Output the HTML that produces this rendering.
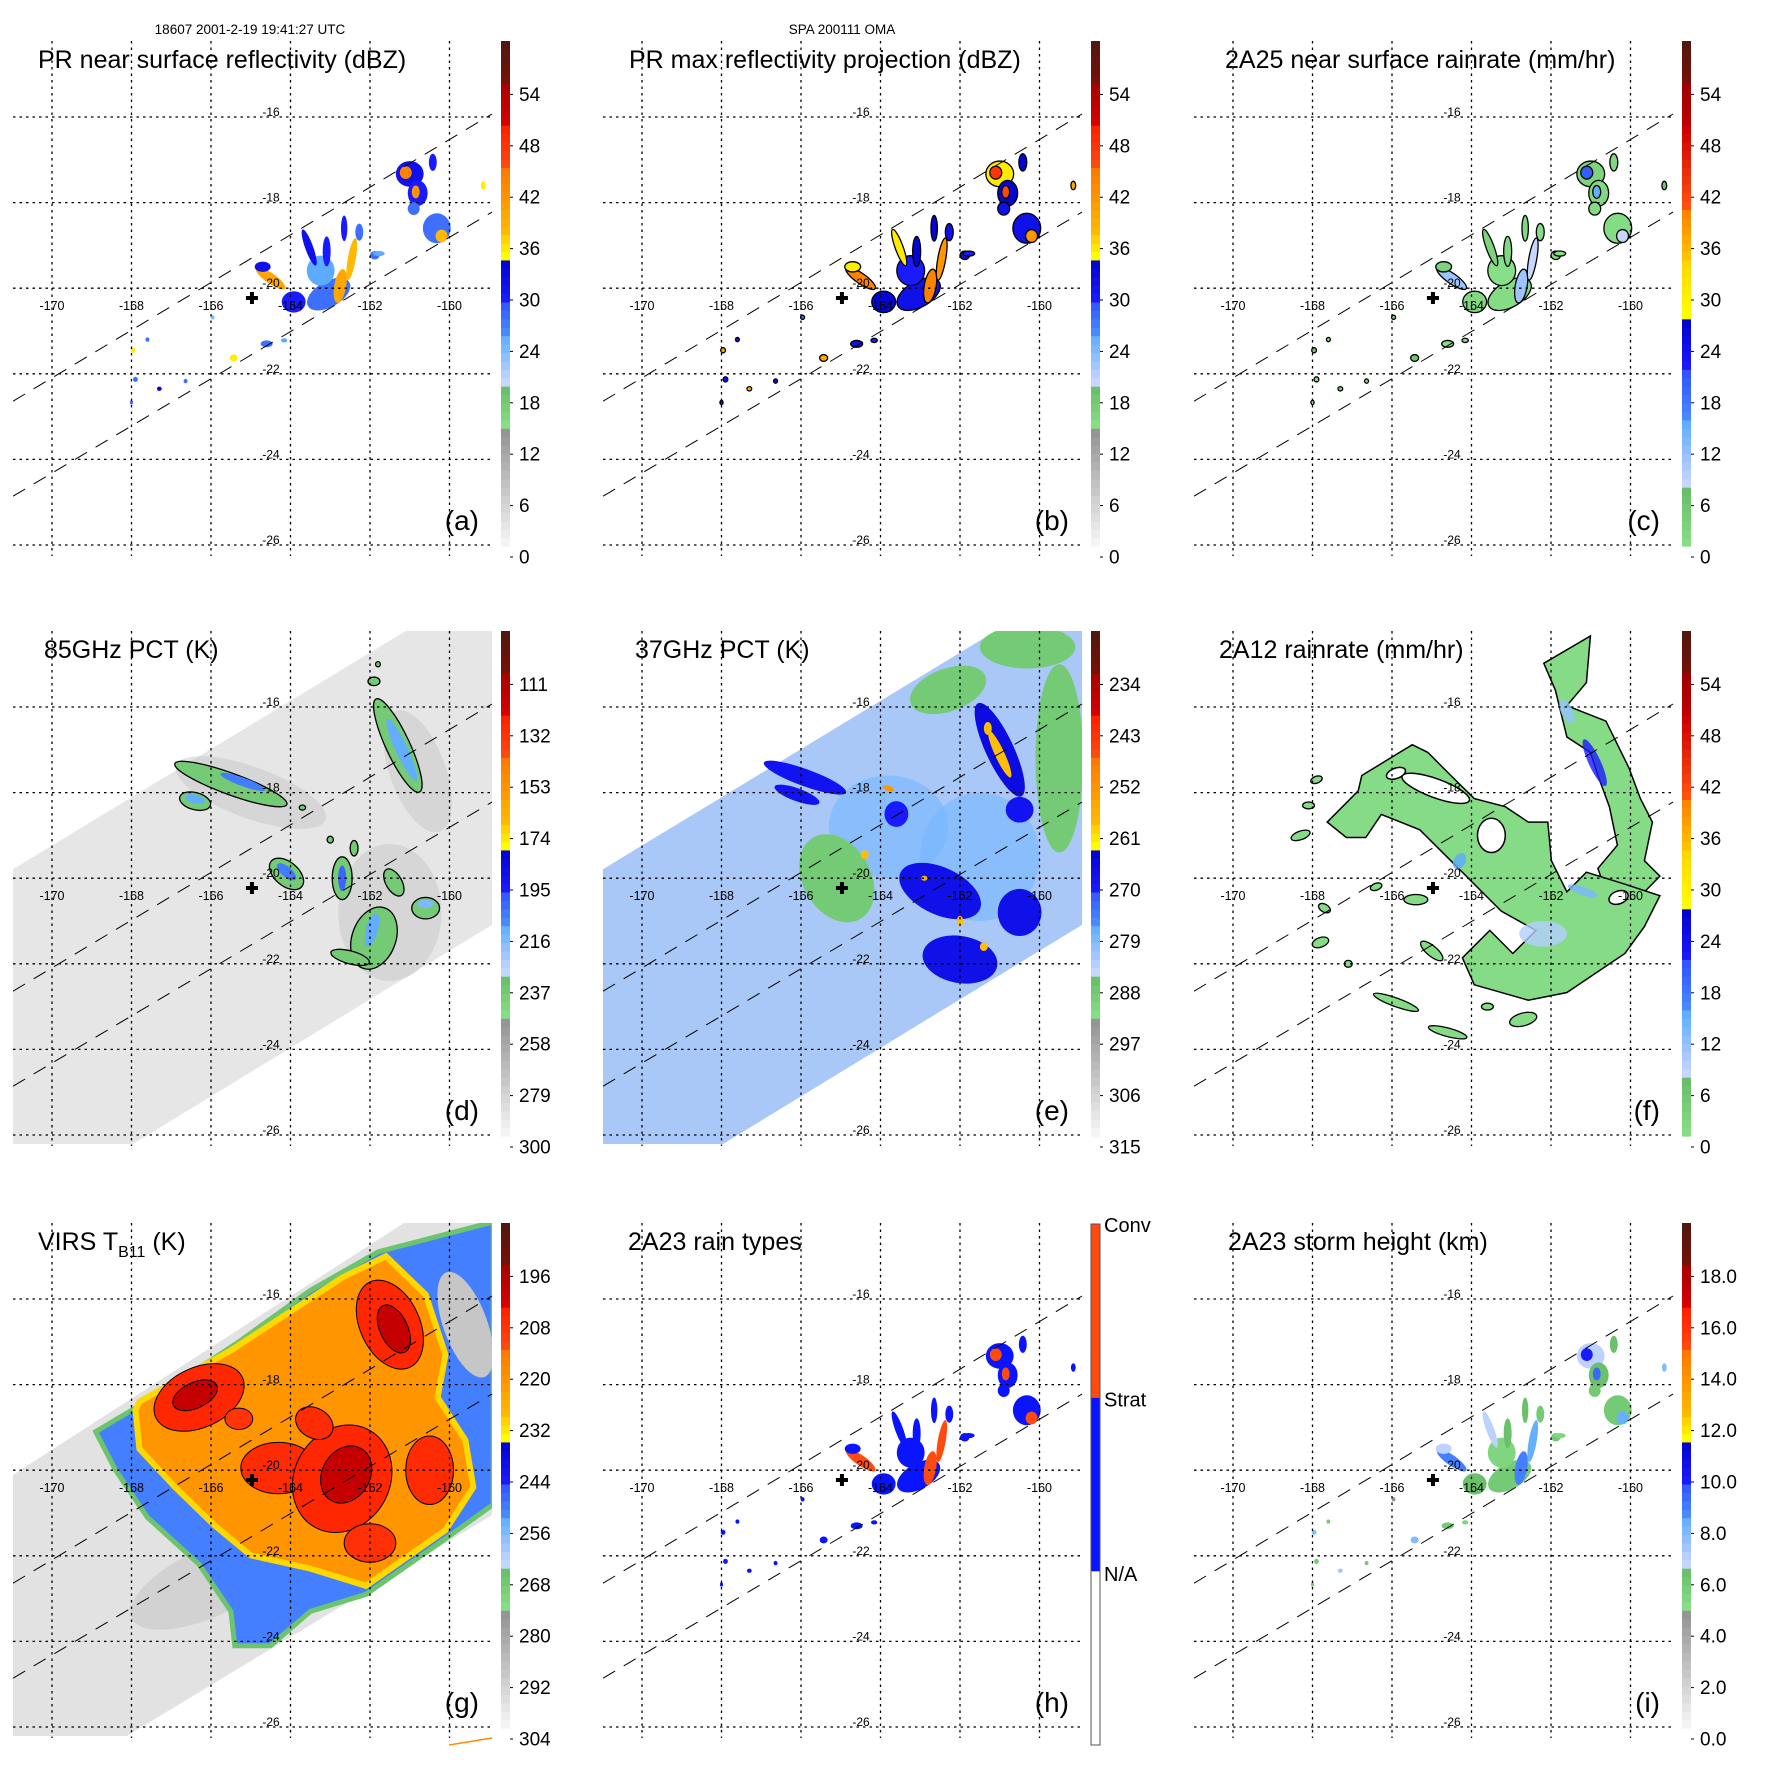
<!DOCTYPE html>
<html><head><meta charset="utf-8"><title>TRMM multi-panel</title>
<style>
html,body{margin:0;padding:0;background:#fff;}
svg{display:block;font-family:"Liberation Sans",Arial,sans-serif;}
</style></head>
<body>
<svg id="fig" xmlns="http://www.w3.org/2000/svg" width="1771" height="1771" viewBox="0 0 1771 1771">
<rect x="0" y="0" width="1771" height="1771" fill="#fff"/>
<text x="250" y="34" font-size="13.5" text-anchor="middle">18607 2001-2-19 19:41:27 UTC</text>
<text x="842" y="34" font-size="13.5" text-anchor="middle">SPA 200111 OMA</text>
</svg>
<script>
// ---------- data ----------
const lonTicks=[-170,-168,-166,-164,-162,-160];
const latTicks=[-16,-18,-20,-22,-24,-26];
const swathLon=[-170.98,-158.93,-158.93,-170.98];
const swathLat=[-19.79,-13.0,-21.09,-27.92];
const gSwathLat=[-20.11,-12.9,-21.05,-27.82];
const prEdgeLon=[-170.98,-158.93];
const prUpperLat=[-22.64,-15.93];
const prLowerLat=[-24.86,-18.22];
const centerLon=-164.97, centerLat=-20.23;

// PR echoes (shared by a,b,c,h,i)
const prLon=[-163.04,-163.24,-162.75,-163.92,-164.5,-164.7,-163.53,-163.09,-162.46,-162.65,-162.27,-161.0,-160.8,-160.42,-160.9,-160.32,-160.2,-161.88,-159.15,-164.6,-165.43,-167.96,-167.9,-167.3,-166.64,-167.6,-164.16,-168.0,-165.96,-161.78,-161.1,-160.85];
const prLat=[-20.14,-19.59,-19.95,-20.32,-19.77,-19.5,-19.05,-19.14,-19.32,-18.6,-18.69,-17.33,-17.78,-17.06,-18.14,-18.6,-18.78,-19.23,-17.6,-21.3,-21.63,-21.45,-22.13,-22.35,-22.17,-21.2,-21.22,-22.67,-20.68,-19.19,-17.3,-17.75];
const prRx=[0.6,0.35,0.15,0.3,0.45,0.2,0.1,0.1,0.1,0.08,0.1,0.35,0.25,0.1,0.15,0.35,0.15,0.12,0.06,0.15,0.1,0.06,0.06,0.06,0.05,0.05,0.08,0.04,0.05,0.15,0.15,0.1];
const prRy=[0.3,0.35,0.4,0.25,0.12,0.12,0.45,0.35,0.5,0.3,0.2,0.3,0.3,0.2,0.15,0.35,0.15,0.1,0.1,0.08,0.08,0.06,0.06,0.05,0.05,0.05,0.05,0.05,0.05,0.06,0.15,0.15];
const prRot=[-30,0,10,0,35,0,-20,0,10,0,0,0,0,0,0,0,0,0,0,0,0,0,0,0,0,0,0,0,0,0,0,0];
const prDbz=[28,26,40,30,40,32,32,30,38,30,28,32,30,30,28,28,38,28,36,28,36,36,28,34,28,28,26,28,24,26,44,42];

// 85 GHz PCT (d)
const d85Lon=[-165.5,-165.2,-166.4,-166.4,-161.3,-161.2,-164.1,-164.1,-162.7,-162.7,-161.9,-161.95,-162.5,-160.6,-160.6,-161.4,-161.9,-161.8,-163.0,-162.4,-163.7];
const d85Lat=[-17.8,-17.75,-18.2,-18.15,-16.9,-17.0,-19.9,-19.85,-20.0,-20.0,-21.4,-21.2,-21.85,-20.7,-20.6,-20.1,-15.4,-15.0,-19.1,-19.3,-18.35];
const d85Rx=[1.5,0.6,0.4,0.25,0.3,0.15,0.5,0.3,0.25,0.1,0.55,0.15,0.5,0.35,0.2,0.2,0.15,0.06,0.08,0.1,0.08];
const d85Ry=[0.25,0.1,0.2,0.1,1.2,0.8,0.28,0.12,0.5,0.3,0.75,0.4,0.15,0.25,0.1,0.35,0.1,0.06,0.08,0.18,0.06];
const d85Rot=[20,20,15,15,-25,-25,40,40,0,0,20,15,15,0,0,-30,0,0,0,0,0];
const d85Tb=[237,205,237,210,237,210,237,205,237,200,237,210,237,237,215,237,237,237,237,237,237];

// 37 GHz PCT (e)
const e37Lon=[-163.8,-161.5,-162.3,-159.5,-160.3,-165.1,-165.9,-166.1,-161.0,-161.0,-161.3,-162.5,-162.0,-160.5,-163.6,-160.5,-163.8,-164.4,-162.9,-162.0,-161.4];
const e37Lat=[-18.8,-19.5,-15.6,-17.2,-14.6,-20.0,-17.65,-18.05,-17.0,-17.1,-16.5,-20.3,-21.9,-20.8,-18.5,-18.4,-17.9,-19.45,-20.0,-21.0,-21.6];
const e37Rx=[1.5,1.5,1.0,0.6,1.2,0.85,1.1,0.6,0.35,0.12,0.1,1.1,0.95,0.55,0.3,0.35,0.15,0.1,0.08,0.08,0.1];
const e37Ry=[1.2,1.5,0.5,2.2,0.5,1.1,0.2,0.15,1.2,0.6,0.15,0.55,0.55,0.55,0.3,0.3,0.06,0.1,0.06,0.12,0.1];
const e37Rot=[0,0,-20,0,0,-30,20,20,-25,-25,0,25,10,0,0,0,20,0,0,0,0];
const e37Tb=[278,278,288,288,288,288,268,268,266,259,259,267,267,267,270,268,252,259,256,259,259];

// VIRS (g)
const gBlueLon=[-168.9,-167.1,-165.3,-163.5,-161.8,-158.9,-158.9,-160.1,-162.1,-163.5,-164.5,-165.4,-165.5,-166.3,-167.6,-168.4];
const gBlueLat=[-19.1,-18.1,-17.0,-15.8,-14.9,-14.2,-20.8,-21.6,-22.9,-23.3,-24.1,-24.1,-23.3,-22.2,-21.1,-20.0];
const gOrangeLon=[-167.8,-165.5,-162.7,-161.6,-160.6,-160.1,-160.3,-159.6,-159.4,-160.1,-162.1,-163.5,-165.0,-165.9,-166.9,-167.8,-167.9];
const gOrangeLat=[-18.4,-17.2,-15.5,-15.0,-15.9,-17.3,-18.3,-19.3,-20.4,-21.4,-22.7,-22.3,-21.99,-21.3,-20.4,-19.5,-18.6];
const gRedLon=[-166.3,-164.3,-162.7,-161.5,-160.5,-162.0,-165.3,-166.4,-162.6,-161.4,-163.4];
const gRedLat=[-18.3,-19.95,-20.2,-16.6,-20.0,-21.7,-18.8,-18.25,-20.1,-16.7,-18.9];
const gRedRx=[1.2,0.95,1.2,0.75,0.6,0.65,0.35,0.6,0.6,0.35,0.5];
const gRedRy=[0.7,0.6,1.3,1.1,0.8,0.45,0.25,0.3,0.7,0.6,0.35];
const gRedRot=[-25,0,30,-25,0,0,0,-25,30,-25,30];
const gRedTb=[205,206,205,205,206,207,208,199,199,199,206];

// 2A12 (f)
const fArmLon=[-162.18,-161.01,-161.11,-161.6,-160.62,-160.04,-159.75,-159.45,-159.65,-159.26,-159.84,-160.62,-160.82,-160.33,-160.53,-160.82,-161.01,-161.6,-161.89];
const fArmLat=[-14.98,-14.34,-15.43,-15.97,-16.33,-17.42,-18.14,-18.69,-19.59,-19.95,-20.5,-20.32,-19.77,-19.23,-18.33,-17.6,-17.06,-16.7,-15.61];
const fMainLon=[-166.76,-165.49,-165.1,-164.52,-163.93,-163.15,-162.57,-162.08,-161.99,-161.6,-161.11,-160.14,-159.26,-159.65,-160.14,-161.6,-162.57,-163.93,-164.23,-163.54,-162.96,-162.38,-163.25,-164.52,-165.3,-166.27,-166.66,-167.15,-167.63,-166.85];
const fMainLat=[-17.6,-16.88,-17.06,-17.6,-18.14,-18.33,-18.69,-18.69,-19.59,-20.32,-19.86,-20.14,-20.41,-21.13,-21.76,-22.67,-22.85,-22.49,-21.86,-21.22,-21.76,-21.22,-20.77,-19.59,-18.87,-18.51,-19.05,-19.05,-18.69,-17.96];
const fHoleLon=[-164.9,-163.5,-160.3,-165.9];
const fHoleLat=[-17.9,-19.0,-20.45,-17.55];
const fHoleRx=[0.9,0.35,0.25,0.25];
const fHoleRy=[0.22,0.4,0.15,0.12];
const fHoleRot=[20,0,-20,-20];
const fBitLon=[-165.9,-164.6,-162.7,-165.0,-167.7,-167.8,-167.1,-166.4,-168.3,-167.9,-163.6,-165.4,-168.1];
const fBitLat=[-22.9,-23.6,-23.3,-21.7,-20.7,-21.5,-22.0,-20.2,-19.0,-17.7,-23.0,-20.5,-18.3];
const fBitRx=[0.6,0.5,0.35,0.35,0.1,0.12,0.1,0.15,0.25,0.15,0.15,0.3,0.15];
const fBitRy=[0.1,0.1,0.15,0.12,0.15,0.2,0.08,0.08,0.1,0.08,0.08,0.12,0.08];
const fBitRot=[20,15,-15,40,-60,70,0,-20,-20,-20,0,0,0];
const fRainLon=[-160.9,-164.3,-161.2,-162.2,-161.6];
const fRainLat=[-17.3,-19.6,-20.3,-21.3,-16.1];
const fRainRx=[0.15,0.15,0.4,0.6,0.15];
const fRainRy=[0.6,0.2,0.1,0.3,0.3];
const fRainRot=[-25,30,20,0,-25];
const fRainVal=[22,16,14,10,12];

// colorbar labels
const cbLabels={
 a:['0','6','12','18','24','30','36','42','48','54'],
 b:['0','6','12','18','24','30','36','42','48','54'],
 c:['0','6','12','18','24','30','36','42','48','54'],
 d:['300','279','258','237','216','195','174','153','132','111'],
 e:['315','306','297','288','279','270','261','252','243','234'],
 f:['0','6','12','18','24','30','36','42','48','54'],
 g:['304','292','280','268','256','244','232','220','208','196'],
 i:['0.0','2.0','4.0','6.0','8.0','10.0','12.0','14.0','16.0','18.0']
};
const cbStart={a:0,b:0,c:0,d:300,e:315,f:0,g:304,i:0};
const cbStep={a:6,b:6,c:6,d:-21,e:-9,f:6,g:-12,i:2};
const typeLabels=['Conv','Strat','N/A'];

// ---------- geometry ----------
const NS='http://www.w3.org/2000/svg';
const DX=39.75, DY=42.8;
function xS(lon){return 52+(lon+170)*DX;}
function yS(lat){return 117+(-16-lat)*DY;}
const stdSeg=[[0.236,'#f8f8f8','#909090'],[0.321,'#88e088','#66bb66'],[0.422,'#ccd8ff','#5aaaff'],[0.487,'#4a8cff','#3050ff'],[0.574,'#1a1aff','#0000c8'],[0.61,'#ffff00','#ffd000'],[0.745,'#ffc000','#ff7800'],[0.828,'#ff5010','#ff2000'],[0.917,'#dd0000','#a80000'],[1,'#781008','#501810']];
const rainSeg=[[0.119,'#88e088','#66bb66'],[0.25,'#ccd8ff','#5aaaff'],[0.35,'#4a8cff','#3050ff'],[0.456,'#1a1aff','#0000c8'],[0.575,'#ffff00','#ffd000'],[0.675,'#ffc000','#ff7800'],[0.83,'#ff5010','#cc0000'],[0.917,'#c00000','#a00000'],[1,'#781008','#501810']];
function hx(c){return [parseInt(c.substr(1,2),16),parseInt(c.substr(3,2),16),parseInt(c.substr(5,2),16)];}
function mix(a,b,t){const A=hx(a),B=hx(b);return 'rgb('+A.map((v,i)=>Math.round(v+(B[i]-v)*t)).join(',')+')';}
function segColor(seg,f){f=Math.max(0,Math.min(0.999,f));let lo=0;for(const s of seg){if(f<s[0]){return mix(s[1],s[2],(f-lo)/(s[0]-lo));}lo=s[0];}return seg[seg.length-1][2];}
function valFrac(p,v){const k=(v-cbStart[p])/cbStep[p];const y=557-k*51.4;return (546-y)/505;}
function colorFor(p,v){return segColor((p==='c'||p==='f')?rainSeg:stdSeg,valFrac(p,v));}

const svg=document.getElementById('fig');
function mk(tag,parent){const e=document.createElementNS(NS,tag);parent.appendChild(e);return e;}
function setA(e,o){for(const k in o)e.setAttribute(k,o[k]);return e;}
function blob(parent,lon,lat,rx,ry,rot,fill){
 const e=mk('ellipse',parent);const cx=xS(lon),cy=yS(lat);
 setA(e,{cx:cx,cy:cy,rx:rx*DX,ry:ry*DY,transform:'rotate('+rot+' '+cx+' '+cy+')',fill:fill});
 return e;}
function poly(parent,lons,lats,fill){
 const e=mk('polygon',parent);
 e.setAttribute('points',lons.map((l,i)=>xS(l).toFixed(1)+','+yS(lats[i]).toFixed(1)).join(' '));
 e.setAttribute('fill',fill);return e;}
function zr(dbz){return Math.pow(Math.pow(10,dbz/10)/200,1/1.6);}

const panelIds=['a','b','c','d','e','f','g','h','i'];
const panelOx=[0,590,1181,0,590,1181,0,590,1181];
const panelOy=[0,0,0,590,590,590,1182,1182,1182];
const titleX={a:38,b:39,c:44,d:44,e:45,f:38,g:38,h:38,i:47};
const titles={a:'PR near surface reflectivity (dBZ)',b:'PR max reflectivity projection (dBZ)',c:'2A25 near surface rainrate (mm/hr)',d:'85GHz PCT (K)',e:'37GHz PCT (K)',f:'2A12 rainrate (mm/hr)',h:'2A23 rain types',i:'2A23 storm height (km)'};

panelIds.forEach((p,idx)=>{
 const G=mk('g',svg);
 G.setAttribute('transform','translate('+panelOx[idx]+','+panelOy[idx]+')');
 
 
 const cp=mk('clipPath',G);cp.setAttribute('id','clip-'+p);
 setA(mk('rect',cp),{x:13,y:41,width:479,height:513});
 const M=mk('g',G);M.setAttribute('clip-path','url(#clip-'+p+')');
 
 

 if(p==='a'||p==='b'||p==='c'||p==='h'||p==='i'){
  prLon.forEach((lon,i)=>{
   let v=prDbz[i],fill;
   if(p==='a')fill=colorFor('a',v);
   else if(p==='b')fill=colorFor('b',v+4);
   else if(p==='c')fill=colorFor('c',zr(v));
   else if(p==='h')fill=v>=38?'#ff4a10':'#0a14ff';
   else fill=colorFor('i',5+(v-24)*0.25);
   const e=blob(M,lon,prLat[i],prRx[i],prRy[i],prRot[i],fill);
   if(p==='b'||p==='c'){e.setAttribute('stroke','#000');e.setAttribute('stroke-width','1.3');}
   
   
  });
 }
 if(p==='d'){
  const s=poly(M,swathLon,swathLat,'#e6e6e6');
  
  
  [[-161.5,-20.8,1.3,1.6,0],[-165,-18,2,0.6,20],[-160.8,-17.5,0.7,1.5,-20]].forEach(q=>{
   const sh=blob(M,q[0],q[1],q[2],q[3],q[4],'#c4c4c4');sh.setAttribute('opacity','0.45');
   
   
  });
  d85Lon.forEach((lon,i)=>{
   const e=blob(M,lon,d85Lat[i],d85Rx[i],d85Ry[i],d85Rot[i],colorFor('d',d85Tb[i]));
   if(d85Tb[i]>=230){e.setAttribute('stroke','#000');e.setAttribute('stroke-width','1.3');}
   
   
  });
 }
 if(p==='e'){
  const s=poly(M,swathLon,swathLat,'#a9c8f7');
  
  
  e37Lon.forEach((lon,i)=>{
   const e=blob(M,lon,e37Lat[i],e37Rx[i],e37Ry[i],e37Rot[i],colorFor('e',e37Tb[i]));
   if(e37Tb[i]===278)e.setAttribute('opacity','0.6');
   
   
  });
 }
 if(p==='g'){
  const s=poly(M,swathLon,gSwathLat,'#e2e2e2');
  
  
  const gr=blob(M,-166,-22.6,2.2,0.8,-25,'#c8c8c8');gr.setAttribute('opacity','0.6');
  
  
  const bl=poly(M,gBlueLon,gBlueLat,colorFor('g',250));
  bl.setAttribute('stroke','#6cc46c');bl.setAttribute('stroke-width','5');
  
  
  const gy=blob(M,-159.6,-16.6,0.55,1.3,-20,'#c6c6c6');
  
  
  const or=poly(M,gOrangeLon,gOrangeLat,colorFor('g',220));
  or.setAttribute('stroke','#ffd800');or.setAttribute('stroke-width','6');
  
  
  gRedLon.forEach((lon,i)=>{
   const e=blob(M,lon,gRedLat[i],gRedRx[i],gRedRy[i],gRedRot[i],colorFor('g',gRedTb[i]));
   e.setAttribute('stroke','#000');e.setAttribute('stroke-width','1');
   
   
  });
  const ol=mk('line',G);setA(ol,{x1:449,y1:563,x2:492,y2:556,stroke:'#ff8c00','stroke-width':1.5});
  
  
 }
 if(p==='f'){
  [[fArmLon,fArmLat],[fMainLon,fMainLat]].forEach(q=>{
   const e=poly(M,q[0],q[1],'#86dc86');
   e.setAttribute('stroke','#000');e.setAttribute('stroke-width','1.5');
   
   
  });
  fHoleLon.forEach((lon,i)=>{
   const e=blob(M,lon,fHoleLat[i],fHoleRx[i],fHoleRy[i],fHoleRot[i],'#fff');
   e.setAttribute('stroke','#000');e.setAttribute('stroke-width','1.5');
   
   
  });
  fBitLon.forEach((lon,i)=>{
   const e=blob(M,lon,fBitLat[i],fBitRx[i],fBitRy[i],fBitRot[i],'#86dc86');
   e.setAttribute('stroke','#000');e.setAttribute('stroke-width','1.3');
   
   
  });
  fRainLon.forEach((lon,i)=>{
   const e=blob(M,lon,fRainLat[i],fRainRx[i],fRainRy[i],fRainRot[i],colorFor('f',fRainVal[i]));
   e.setAttribute('opacity','0.8');
   
   
  });
 }

 // grid
 lonTicks.forEach(lon=>{
  const l=mk('line',G);setA(l,{x1:xS(lon),y1:41,x2:xS(lon),y2:556,stroke:'#000','stroke-width':1.3,'stroke-dasharray':'2.5,4'});
  
  
  const t=mk('text',G);setA(t,{x:xS(lon),y:310,'font-size':12.5,'text-anchor':'middle'});t.textContent=String(lon);
  
  
 });
 latTicks.forEach(lat=>{
  const l=mk('line',G);setA(l,{x1:13,y1:yS(lat),x2:492,y2:yS(lat),stroke:'#000','stroke-width':1.3,'stroke-dasharray':'2.5,4'});
  
  
  const t=mk('text',G);setA(t,{x:271,y:yS(lat)-1,'font-size':12,'text-anchor':'middle'});t.textContent=String(lat);
  
  
 });
 [prUpperLat,prLowerLat].forEach(la=>{
  const l=mk('line',G);setA(l,{x1:xS(prEdgeLon[0]),y1:yS(la[0]),x2:xS(prEdgeLon[1]),y2:yS(la[1]),stroke:'#000','stroke-width':1,'stroke-dasharray':'14,10'});
  
  
 });
 const cx=xS(centerLon),cy=yS(centerLat);
 const cr=mk('path',G);setA(cr,{d:'M'+(cx-6)+' '+cy+'H'+(cx+6)+'M'+cx+' '+(cy-6)+'V'+(cy+6),stroke:'#000','stroke-width':4});
 
 

 const tt=mk('text',G);setA(tt,{x:titleX[p],y:68,'font-size':25});
 if(p==='g'){
  tt.textContent='VIRS T';
  const sb=mk('tspan',tt);setA(sb,{'font-size':16,dy:7});sb.textContent='B11';
  const rs=mk('tspan',tt);setA(rs,{dy:-7});rs.textContent=' (K)';
 } else tt.textContent=titles[p];
 
 
 const pl=mk('text',G);setA(pl,{x:479,y:530,'font-size':28,'text-anchor':'end'});pl.textContent='('+p+')';
 
 

 const CB=mk('g',G);
 
 
 if(p==='h'){
  const cols=['#ff4a10','#0a14ff','#ffffff'];
  cols.forEach((c,i)=>{setA(mk('rect',CB),{x:501,y:42+i*173.7,width:9,height:173.7,fill:c});});
  setA(mk('rect',CB),{x:501,y:42,width:9,height:521,fill:'none',stroke:'#555','stroke-width':1});
  typeLabels.forEach((s,i)=>{
   const t=mk('text',CB);setA(t,{x:514,y:50+i*174.5,'font-size':20});t.textContent=s;
   
   
  });
 } else {
  const seg=(p==='c'||p==='f')?rainSeg:stdSeg;
  const N=60;
  for(let k=0;k<N;k++){
   const r=mk('rect',CB);
   setA(r,{x:501,y:546-(k+1)*505/N,width:9,height:505/N+0.6,fill:segColor(seg,(k+0.5)/N)});
  }
  cbLabels[p].forEach((s,k)=>{
   const y=557-k*51.4;
   setA(mk('line',CB),{x1:510,y1:y,x2:513,y2:y,stroke:'#000','stroke-width':1});
   const t=mk('text',CB);setA(t,{x:519,y:y+6.5,'font-size':19});t.textContent=s;
   
   
  });
 }
});
</script>
</body></html>
